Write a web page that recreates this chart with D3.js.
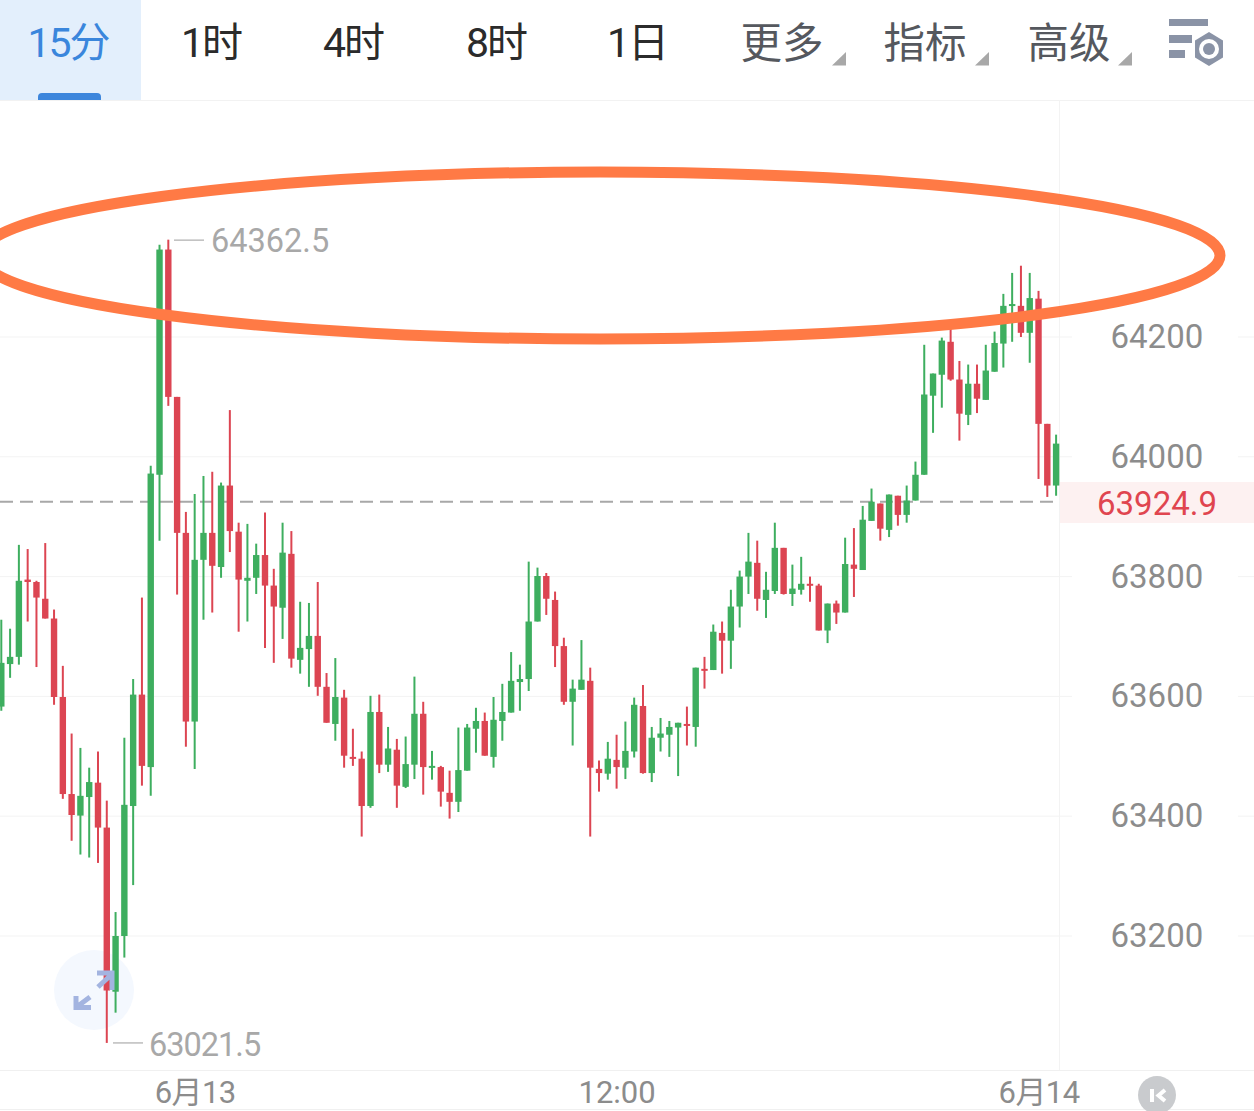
<!DOCTYPE html>
<html>
<head>
<meta charset="utf-8">
<style>
html,body{margin:0;padding:0;background:#fff;overflow:hidden}
svg{display:block}
text{font-family:Roboto,"Noto Sans CJK SC",sans-serif}
</style>
<script src="https://d3js.org/d3.v7.min.js"></script>
</head>
<body>
<svg id="c" width="1254" height="1111"></svg>
<script>
const tabs = ["15分","1时","4时","8时","1日","更多","指标","高级"];
const priceTicks = [63200,63400,63600,63800,64000,64200];
const timeTickIndex = [22,70,118];
const timeTickLabels = ["6月13","12:00","6月14"];
const lastPrice = 63924.9;
const highLabel = 64362.5, lowLabel = 63021.5;
const opens = [63583,63654,63666,63795,63791,63763,63730,63599,63437,63401,
63432,63456,63381,63107,63200,63417,63603,63482,63970,64346,
64100,63873,63558,63828,63873,63816,63952,63875,63793,63798,
63836,63785,63748,63838,63661,63679,63701,63616,63554,63598,
63499,63496,63417,63574,63486,63511,63449,63486,63571,63482,
63482,63439,63424,63476,63546,63559,63499,63559,63573,63624,
63629,63725,63801,63761,63684,63591,63611,63626,63479,63471,
63494,63481,63508,63584,63472,63531,63536,63548,63554,63549,
63646,63644,63706,63693,63750,63800,63823,63761,63776,63848,
63771,63778,63788,63785,63710,63755,63740,63820,63811,63893,
63922,63878,63935,63903,63927,63970,64102,64137,64192,64129,
64070,64122,64095,64142,64189,64252,64252,64207,64264,64055,63952];
const closes = [63656,63666,63793,63791,63765,63730,63599,63437,63402,63434,
63457,63381,63109,63200,63419,63603,63484,63972,64346,64100,
63873,63558,63828,63873,63818,63952,63876,63795,63798,63836,
63785,63750,63840,63663,63681,63701,63616,63556,63599,63501,
63496,63417,63574,63486,63513,63451,63487,63571,63482,63484,
63441,63424,63477,63548,63559,63501,63561,63574,63626,63629,
63725,63801,63763,63684,63591,63613,63628,63481,63472,63496,
63482,63509,63586,63472,63531,63538,63549,63556,63551,63648,
63644,63708,63693,63750,63800,63825,63763,63778,63848,63771,
63780,63788,63785,63710,63755,63740,63821,63813,63895,63925,
63880,63937,63903,63927,63970,64104,64139,64194,64129,64072,
64122,64097,64144,64190,64252,64255,64207,64265,64055,63952,64022];
const highs = [63728,63713,63853,63846,63793,63856,63745,63651,63538,63514,
63481,63508,63426,63240,63531,63629,63765,63985,64354,64362.5,
64100,63908,63938,63968,63975,63957,64078,63890,63888,63855,
63907,63813,63890,63876,63758,63756,63791,63639,63664,63611,
63546,63508,63601,63603,63549,63529,63533,63633,63591,63509,
63484,63476,63548,63554,63581,63573,63599,63621,63674,63653,
63825,63815,63806,63775,63698,63628,63694,63648,63493,63524,
63536,63558,63598,63619,63549,63564,63559,63556,63583,63648,
63666,63720,63725,63778,63810,63873,63860,63808,63890,63848,
63820,63833,63800,63788,63755,63760,63865,63881,63918,63947,
63922,63937,63935,63952,63992,64187,64139,64199,64217,64160,
64154,64154,64187,64209,64272,64307,64319,64307,64277,64055,64037];
const lows = [63576,63631,63653,63725,63649,63730,63586,63429,63359,63336,
63331,63322,63021.5,63072,63164,63285,63451,63434,63860,64085,
63770,63516,63479,63728,63740,63798,63841,63708,63725,63771,
63681,63656,63696,63648,63638,63616,63601,63556,63526,63481,
63484,63366,63414,63472,63474,63414,63447,63462,63436,63461,
63416,63396,63407,63476,63506,63501,63481,63526,63573,63576,
63609,63725,63736,63649,63586,63518,63611,63366,63441,63461,
63446,63462,63498,63471,63457,63508,63499,63467,63518,63516,
63613,63644,63638,63646,63715,63771,63743,63731,63771,63770,
63751,63770,63758,63710,63689,63721,63740,63766,63811,63893,
63860,63866,63885,63890,63927,63970,64040,64082,64127,64027,
64053,64073,64095,64142,64149,64192,64200,64157,63963,63933,63935];

const svg = d3.select("#c");
const x = d3.scaleLinear().domain([0,120]).range([1.3,1056.1]);
const y = d3.scaleLinear().domain([63200,64200]).range([936,337]);
const UP="#3eae5f", DOWN="#dc4552", GRID="#f3f3f3", AXIS="#8c8c8c";

// header
svg.append("rect").attr("x",0).attr("y",0).attr("width",141).attr("height",100).attr("fill","#e3effc");
svg.append("path").attr("d","M38,100V97a4,4 0 0 1 4,-4H97a4,4 0 0 1 4,4V100Z").attr("fill","#3d86dc");
svg.append("line").attr("x1",0).attr("x2",1254).attr("y1",100.5).attr("y2",100.5).attr("stroke","#f2f2f2");
const tabCenters = [68,211,353,496,637,782,925,1069];
svg.append("g").selectAll("text").data(tabs).join("text")
  .attr("x",(d,i)=>tabCenters[i]).attr("y",(d,i)=>i<5?57:58).attr("text-anchor","middle")
  .attr("font-size",(d,i)=>i<5?41:41.5)
  .attr("letter-spacing",(d,i)=>i<5?-2:0)
  .attr("fill",(d,i)=>i===0?"#3a86dc":i<5?"#2b2b2b":"#55585e")
  .text(d=>d);
[846,989,1132].forEach(a=>svg.append("path").attr("d",`M${a},52V65.5H${a-14}Z`).attr("fill","#a8a8a8"));
const ic="#8a93a6";
svg.append("rect").attr("x",1169).attr("y",19).attr("width",39).attr("height",7).attr("fill",ic);
svg.append("rect").attr("x",1169).attr("y",35).attr("width",23).attr("height",8).attr("fill",ic);
svg.append("rect").attr("x",1169).attr("y",50).attr("width",16).attr("height",8).attr("fill",ic);
svg.append("path").attr("d",d3.range(6).map(k=>{const a=Math.PI/3*k+Math.PI/2;return (k?"L":"M")+(1209+17*Math.cos(a)*0.95)+","+(49+17*Math.sin(a));}).join("")+"Z").attr("fill",ic);
svg.append("circle").attr("cx",1209).attr("cy",49).attr("r",10).attr("fill","#fff");
svg.append("circle").attr("cx",1209).attr("cy",49).attr("r",6).attr("fill",ic);

// grid
svg.append("g").selectAll("line").data(priceTicks).join("line")
  .attr("x1",0).attr("x2",1072).attr("y1",d=>y(d)).attr("y2",d=>y(d)).attr("stroke",GRID);
svg.append("g").selectAll("line").data(priceTicks).join("line")
  .attr("x1",1238).attr("x2",1254).attr("y1",d=>y(d)).attr("y2",d=>y(d)).attr("stroke",GRID);
svg.append("line").attr("x1",1059.5).attr("x2",1059.5).attr("y1",100).attr("y2",1071).attr("stroke",GRID);
svg.append("line").attr("x1",0).attr("x2",1254).attr("y1",1070.5).attr("y2",1070.5).attr("stroke","#f0f0f0");
svg.append("line").attr("x1",0).attr("x2",1254).attr("y1",1109.5).attr("y2",1109.5).attr("stroke","#f0f0f0");

// current price
svg.append("rect").attr("x",1060).attr("y",482).attr("width",194).attr("height",41).attr("fill","#fdf1f1");
svg.append("line").attr("x1",0).attr("x2",1059).attr("y1",y(lastPrice)).attr("y2",y(lastPrice))
  .attr("stroke","#a8a8a8").attr("stroke-width",2).attr("stroke-dasharray","13 7");

// fullscreen button background sits behind the candles
svg.append("circle").attr("cx",94).attr("cy",990).attr("r",40).attr("fill","#f4f8fe");

// candles
const idx = d3.range(opens.length);
const col = i=>closes[i]>=opens[i]?UP:DOWN;
svg.append("g").selectAll("line").data(idx).join("line")
  .attr("x1",i=>x(i)).attr("x2",i=>x(i)).attr("y1",i=>y(highs[i])).attr("y2",i=>y(lows[i]))
  .attr("stroke",col).attr("stroke-width",2);
svg.append("g").selectAll("rect").data(idx).join("rect")
  .attr("x",i=>x(i)-3.2).attr("width",6.4)
  .attr("y",i=>y(Math.max(opens[i],closes[i])))
  .attr("height",i=>Math.max(2,Math.abs(y(opens[i])-y(closes[i]))))
  .attr("fill",col);

// extreme labels
const ext="#a8a8a8";
svg.append("line").attr("x1",174).attr("x2",204).attr("y1",y(highLabel)+.5).attr("y2",y(highLabel)+.5).attr("stroke","#bdbdbd").attr("stroke-width",1.5);
svg.append("text").attr("x",211).attr("y",y(highLabel)+12).attr("font-size",32.5).attr("fill",ext).text(highLabel);
svg.append("line").attr("x1",113).attr("x2",143).attr("y1",y(lowLabel)).attr("y2",y(lowLabel)).attr("stroke","#bdbdbd").attr("stroke-width",1.5);
svg.append("text").attr("x",149).attr("y",y(lowLabel)+13).attr("font-size",32.5).attr("letter-spacing",-1).attr("fill",ext).text(lowLabel);

// axes
const yAxis = svg.append("g").attr("transform","translate(1110.5,0)")
  .call(d3.axisRight(y).tickValues(priceTicks).tickSize(0).tickPadding(0).tickFormat(d3.format("d")));
yAxis.select(".domain").remove();
yAxis.selectAll("text").attr("font-size",33).attr("fill",AXIS).attr("font-family",null);
const xAxis = svg.append("g").attr("transform","translate(0,1075)")
  .call(d3.axisBottom(x).tickValues(timeTickIndex).tickSize(0).tickPadding(0).tickFormat((d,i)=>timeTickLabels[i]));
xAxis.select(".domain").remove();
xAxis.selectAll("text").attr("font-size",31).attr("fill",AXIS).attr("font-family",null).attr("dy","0.9em")
  .attr("letter-spacing",d=>d===70?0:-0.6);
svg.append("text").attr("x",1157).attr("y",y(lastPrice)+13).attr("text-anchor","middle")
  .attr("font-size",33).attr("fill","#e0454f").text(lastPrice);

// annotation ellipse
svg.append("ellipse").attr("cx",600).attr("cy",255.5).attr("rx",620).attr("ry",83.5)
  .attr("fill","none").attr("stroke","#ff7a45").attr("stroke-width",11);

// fullscreen arrows
svg.append("path").attr("d","M76,996V1007.5H91M76,1007.5L90,997M97,973H112V990M112,974L98,987")
  .attr("fill","none").attr("stroke","#a3b4e0").attr("stroke-width",5);

// k button
svg.append("circle").attr("cx",1157).attr("cy",1095).attr("r",19).attr("fill","#c9cbce");
svg.append("rect").attr("x",1150).attr("y",1089).attr("width",4).attr("height",13).attr("fill","#fff");
svg.append("path").attr("d","M1165,1090L1158.5,1095.5L1165,1101").attr("fill","none").attr("stroke","#fff").attr("stroke-width",4);
</script>
</body>
</html>
